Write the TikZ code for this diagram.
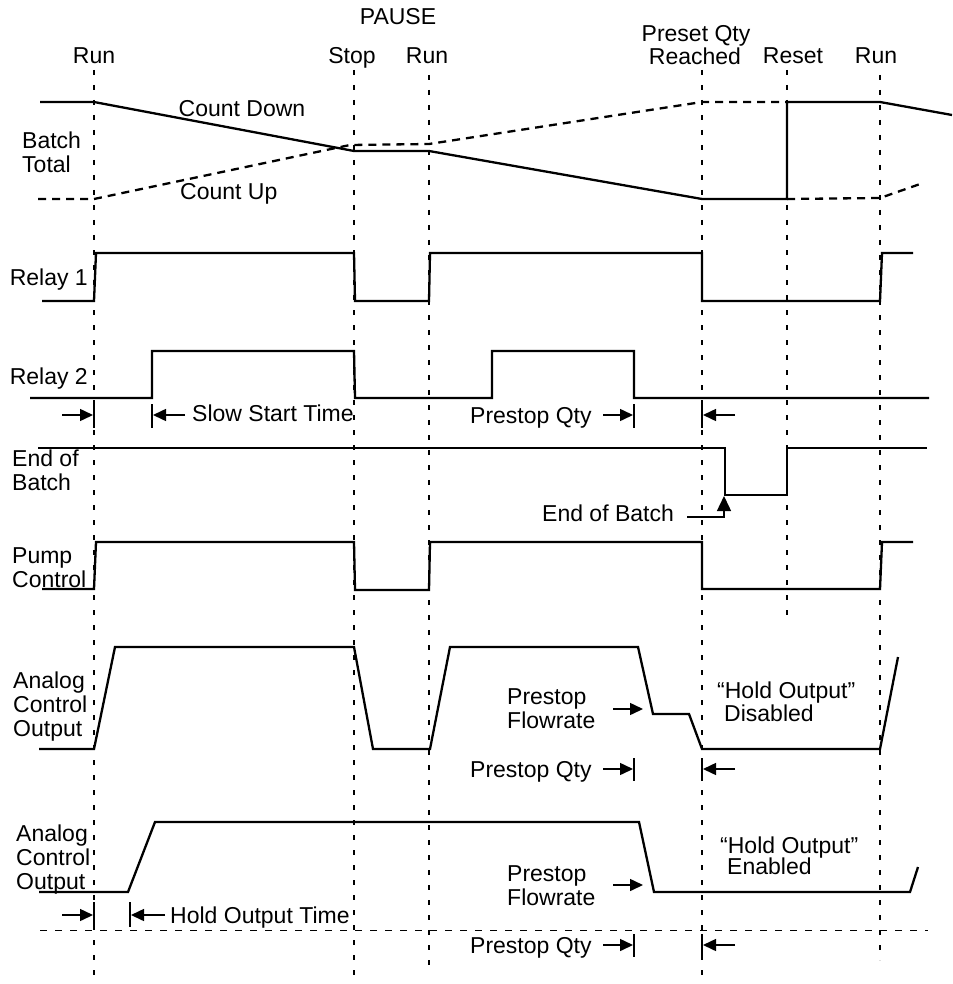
\documentclass[tikz,border=0pt]{standalone}
\usepackage{fontspec}
\setmainfont{Liberation Sans}
\usetikzlibrary{arrows.meta}
\begin{document}
\begin{tikzpicture}[x={(1pt,0)},y={(0,-1pt)},
  sig/.style={line width=2.3pt,line join=miter},
  bdash/.style={line width=2.3pt,dash pattern=on 8pt off 6pt},
  tmark/.style={line width=1.1pt,dash pattern=on 5pt off 10pt},
  hdash/.style={line width=1pt,dash pattern=on 7pt off 8pt},
  lbl/.style={inner sep=0pt,font=\fontsize{23}{24}\selectfont},
  ann/.style={line width=1.5pt,-{Triangle[length=13pt,width=12pt]}},
  tickln/.style={line width=1.2pt}]
\useasboundingbox (0,0) rectangle (952,984);

% time markers
\coordinate (m1a) at (94,70);  \coordinate (m1b) at (94,984);
\coordinate (m2a) at (354,70); \coordinate (m2b) at (354,982);
\coordinate (m3a) at (429,75); \coordinate (m3b) at (429,968);
\coordinate (m4a) at (702,70); \coordinate (m4b) at (702,977);
\coordinate (m5a) at (787,70); \coordinate (m5b) at (787,620);
\coordinate (m6a) at (880,75); \coordinate (m6b) at (880,960);
\foreach \m in {1,...,6} {\draw[tmark] (m\m a) -- (m\m b);}

% top labels
\node[lbl,anchor=north] (pause) at (398,8) {PAUSE};
\node[lbl,anchor=north] (run1) at (94,47) {Run};
\node[lbl,anchor=north] (stop) at (352,47) {Stop};
\node[lbl,anchor=north] (run2) at (427,47) {Run};
\node[lbl,anchor=north] (preset) at (696,25) {Preset Qty};
\node[lbl,anchor=north] (reached) at (695,48) {Reached};
\node[lbl,anchor=north] (reset) at (793,47) {Reset};
\node[lbl,anchor=north] (run3) at (876,47) {Run};

% Batch total
\node[lbl,anchor=north west,align=left] (batch) at (22,132) {Batch\\Total};
\draw[sig] (40,102) -- (94,102) -- (354,151) -- (429,151) -- (702,199) -- (787,199) -- (787,102) -- (880,102) -- (952,115);
\draw[bdash] (38,199) -- (94,199) -- (350,145) -- (429,144) -- (702,102) -- (787,102);
\draw[bdash] (787,199) -- (880,198) -- (923,183);
\node[lbl,anchor=north] (cdown) at (242,100) {Count Down};
\node[lbl,anchor=north west] (cup) at (180,183) {Count Up};

% Relay 1
\node[lbl,anchor=north east] (r1) at (88,269) {Relay 1};
\draw[sig] (42,301) -- (94,301) -- (96,253) -- (354,253) -- (355,301) -- (429,301) -- (430,253) -- (702,253) -- (702,301) -- (880,301) -- (882,253) -- (913,253);

% Relay 2
\node[lbl,anchor=north east] (r2) at (88,368) {Relay 2};
\draw[sig] (30,398) -- (152,398) -- (152,351) -- (354,351) -- (355,398) -- (492,398) -- (492,351) -- (634,351) -- (634,398) -- (929,398);

% slow start / prestop qty row 1
\coordinate (a1s) at (62,415); \coordinate (a1e) at (93,415);
\draw[ann] (a1s) -- (a1e);
\draw[tickln] (94,404) -- (94,428);
\draw[tickln] (152,404) -- (152,428);
\coordinate (a2s) at (185,415); \coordinate (a2e) at (153,415);
\draw[ann] (a2s) -- (a2e);
\node[lbl,anchor=north west] (sst) at (192,405) {Slow Start Time};
\node[lbl,anchor=north west] (pq1) at (470,407) {Prestop Qty};
\coordinate (a3s) at (603,415); \coordinate (a3e) at (633,415);
\draw[ann] (a3s) -- (a3e);
\draw[tickln] (634,404) -- (634,428);
\draw[tickln] (702,404) -- (702,428);
\coordinate (a4s) at (735,415); \coordinate (a4e) at (703,415);
\draw[ann] (a4s) -- (a4e);

% End of batch
\node[lbl,anchor=north west,align=left] (eob) at (12,450) {End of\\Batch};
\draw[sig] (38,448) -- (725,448) -- (725,495) -- (787,495) -- (787,448) -- (927,448);
\node[lbl,anchor=north west] (eobl) at (542,505) {End of Batch};
\coordinate (e1) at (687,517); \coordinate (e2) at (724,517); \coordinate (e3) at (724,496);
\draw[line width=1.4pt,-{Triangle[length=15pt,width=14pt]}] (e1) -- (e2) -- (e3);

% Pump control
\node[lbl,anchor=north west,align=left] (pump) at (12,547) {Pump\\Control};
\draw[sig] (42,589) -- (94,589) -- (96,542) -- (354,542) -- (355,590) -- (429,590) -- (430,542) -- (702,542) -- (702,589) -- (880,589) -- (882,542) -- (913,542);

% Analog control output 1
\node[lbl,anchor=north west,align=left] (ao1) at (13,672) {Analog\\Control\\Output};
\draw[sig] (39,749) -- (94,749) -- (115,647) -- (354,647) -- (373,749) -- (430,749) -- (450,647) -- (638,647) -- (653,714) -- (689,714) -- (702,749) -- (880,749) -- (898,657);
\node[lbl,anchor=north west,align=left] (pf1) at (507,688) {Prestop\\Flowrate};
\coordinate (a5s) at (613,709); \coordinate (a5e) at (643,709);
\draw[ann] (a5s) -- (a5e);
\node[lbl,anchor=north west] (ho1) at (717,682) {“Hold Output”};
\node[lbl,anchor=north west] (dis) at (724,705) {Disabled};
\node[lbl,anchor=north west] (pq2) at (470,761) {Prestop Qty};
\coordinate (a6s) at (603,769); \coordinate (a6e) at (633,769);
\draw[ann] (a6s) -- (a6e);
\draw[tickln] (634,758) -- (634,781);
\draw[tickln] (702,758) -- (702,781);
\coordinate (a7s) at (735,769); \coordinate (a7e) at (703,769);
\draw[ann] (a7s) -- (a7e);

% Analog control output 2
\node[lbl,anchor=north west,align=left] (ao2) at (16,825) {Analog\\Control\\Output};
\draw[sig] (39,892) -- (128,892) -- (155,822) -- (639,822) -- (654,892) -- (910,892) -- (918,867);
\node[lbl,anchor=north west,align=left] (pf2) at (507,865) {Prestop\\Flowrate};
\coordinate (a8s) at (613,885); \coordinate (a8e) at (643,885);
\draw[ann] (a8s) -- (a8e);
\node[lbl,anchor=north west] (ho2) at (720,837) {“Hold Output”};
\node[lbl,anchor=north west] (ena) at (727,858) {Enabled};

% hold output time row
\coordinate (a9s) at (62,915); \coordinate (a9e) at (93,915);
\draw[ann] (a9s) -- (a9e);
\draw[tickln] (94,902) -- (94,927);
\draw[tickln] (130,902) -- (130,927);
\coordinate (a10s) at (165,915); \coordinate (a10e) at (131,915);
\draw[ann] (a10s) -- (a10e);
\node[lbl,anchor=north west] (hot) at (170,907) {Hold Output Time};

\draw[hdash] (40,930) -- (928,930);

% prestop qty row 3
\node[lbl,anchor=north west] (pq3) at (470,937) {Prestop Qty};
\coordinate (a11s) at (603,945); \coordinate (a11e) at (633,945);
\draw[ann] (a11s) -- (a11e);
\draw[tickln] (634,934) -- (634,957);
\draw[tickln] (702,934) -- (702,957);
\coordinate (a12s) at (735,945); \coordinate (a12e) at (703,945);
\draw[ann] (a12s) -- (a12e);
\end{tikzpicture}
\end{document}
